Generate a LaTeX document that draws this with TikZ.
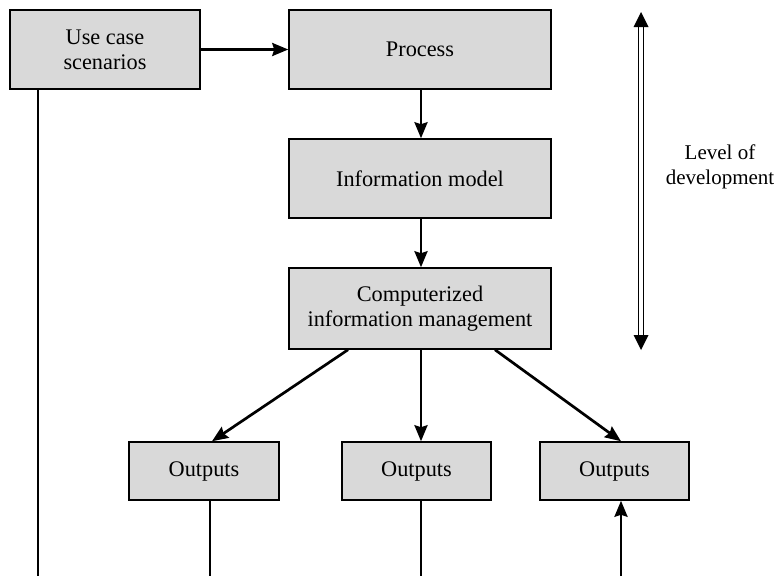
\documentclass[tikz,border=0pt]{standalone}
\usepackage{fontspec}
\setmainfont{Liberation Serif}
\usetikzlibrary{arrows.meta}
\definecolor{boxgray}{HTML}{D9D9D9}
\tikzset{
  blk/.style={draw=black, fill=boxgray, line width=1.5pt, align=center,
    inner sep=0pt, font=\fontsize{22.3}{25}\selectfont},
  conn/.style={line width=2.7pt, -{Stealth[length=16pt,width=13pt,inset=2pt]}},
  plain/.style={line width=2.7pt},
  lbl/.style={align=center, inner sep=0pt, font=\fontsize{21}{25}\selectfont}
}
\begin{document}
\begin{tikzpicture}[x=1pt, y=-1pt]
  \useasboundingbox (0,0) rectangle (776,576);

  % boxes
  \node[blk, minimum width=190pt, minimum height=79pt] (use) at (105,49.5) {Use case\\scenarios};
  \node[blk, minimum width=262pt, minimum height=79pt] (proc) at (420,49.5) {Process};
  \node[blk, minimum width=262pt, minimum height=79pt] (info) at (420,178.5) {Information model};
  \node[blk, minimum width=262pt, minimum height=81pt] (comp) at (420,308.5) {Computerized\\information management};
  \node[blk, minimum width=150pt, minimum height=58pt] (outl) at (204,471) {Outputs};
  \node[blk, minimum width=149pt, minimum height=58pt] (outm) at (416.5,471) {Outputs};
  \node[blk, minimum width=149pt, minimum height=58pt] (outr) at (614.5,471) {Outputs};

  % free ends of the connectors at the lower edge
  \coordinate (uend) at (38,576);
  \coordinate (lend) at (210,576);
  \coordinate (mend) at (421,576);
  \coordinate (rend) at (621,576);

  % flow through the chain
  \draw[conn] (use.east) -- (proc.west);
  \draw[conn] (proc.south -| mend) -- (info.north -| mend);
  \draw[conn] (info.south -| mend) -- (comp.north -| mend);

  % branches to the outputs
  \draw[conn] ([xshift=-72pt]comp.south) -- ([xshift=8pt]outl.north);
  \draw[conn] (comp.south -| mend) -- (outm.north -| mend);
  \draw[conn] ([xshift=75pt]comp.south) -- (outr.north -| rend);

  % lines leaving the picture
  \draw[plain] (use.south -| uend) -- (uend);
  \draw[plain] (outl.south -| lend) -- (lend);
  \draw[plain] (outm.south -| mend) -- (mend);
  \draw[conn] (rend) -- (outr.south -| rend);

  % level of development: double-shafted arrow
  \coordinate (lvtop) at (641,12);
  \coordinate (lvbot) at (641,350);
  \draw[line width=1.3pt] ([xshift=-2.3pt,yshift=-14pt]lvtop) -- ([xshift=-2.3pt,yshift=14pt]lvbot);
  \draw[line width=1.3pt] ([xshift=2.3pt,yshift=-14pt]lvtop) -- ([xshift=2.3pt,yshift=14pt]lvbot);
  \fill (lvtop) -- ++(-7.5,15) -- ++(15,0) -- cycle;
  \fill (lvbot) -- ++(-7.5,-15) -- ++(15,0) -- cycle;
  \node[lbl] (lvl) at (720,167) {Level of\\development};
\end{tikzpicture}
\end{document}
